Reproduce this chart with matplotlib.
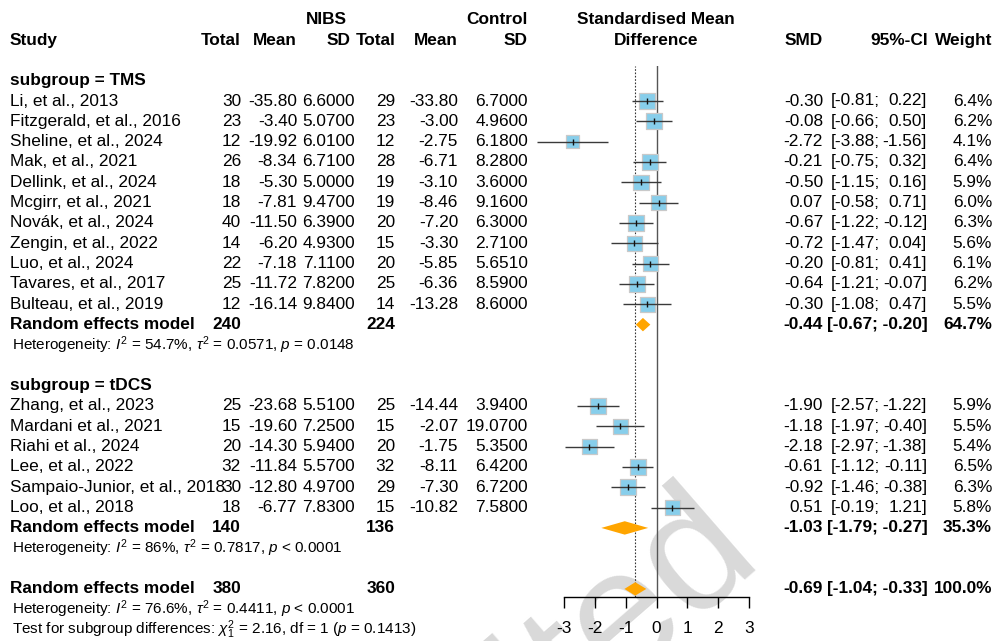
import matplotlib
matplotlib.use("Agg")
import matplotlib.pyplot as plt
import numpy as np

plt.rcParams['font.family'] = ['Liberation Sans', 'DejaVu Sans']
plt.rcParams['mathtext.fontset'] = 'custom'
plt.rcParams['mathtext.rm'] = 'Liberation Sans'
plt.rcParams['mathtext.it'] = 'Liberation Sans:italic'
plt.rcParams['mathtext.bf'] = 'Liberation Sans:bold'

# ---------------- data ----------------
tms_studies = ["Li, et al., 2013", "Fitzgerald, et al., 2016", "Sheline, et al., 2024",
               "Mak, et al., 2021", "Dellink, et al., 2024", "Mcgirr, et al., 2021",
               "Novák, et al., 2024", "Zengin, et al., 2022", "Luo, et al., 2024",
               "Tavares, et al., 2017", "Bulteau, et al., 2019"]
tms_n1 = [30, 23, 12, 26, 18, 18, 40, 14, 22, 25, 12]
tms_m1 = ["-35.80", "-3.40", "-19.92", "-8.34", "-5.30", "-7.81", "-11.50", "-6.20", "-7.18", "-11.72", "-16.14"]
tms_sd1 = ["6.6000", "5.0700", "6.0100", "6.7100", "5.0000", "9.4700", "6.3900", "4.9300", "7.1100", "7.8200", "9.8400"]
tms_n2 = [29, 23, 12, 28, 19, 19, 20, 15, 20, 25, 14]
tms_m2 = ["-33.80", "-3.00", "-2.75", "-6.71", "-3.10", "-8.46", "-7.20", "-3.30", "-5.85", "-6.36", "-13.28"]
tms_sd2 = ["6.7000", "4.9600", "6.1800", "8.2800", "3.6000", "9.1600", "6.3000", "2.7100", "5.6510", "8.5900", "8.6000"]
tms_smd = [-0.30, -0.08, -2.72, -0.21, -0.50, 0.07, -0.67, -0.72, -0.20, -0.64, -0.30]
tms_lo = [-0.81, -0.66, -3.88, -0.75, -1.15, -0.58, -1.22, -1.47, -0.81, -1.21, -1.08]
tms_hi = [0.22, 0.50, -1.56, 0.32, 0.16, 0.71, -0.12, 0.04, 0.41, -0.07, 0.47]
tms_w = [6.4, 6.2, 4.1, 6.4, 5.9, 6.0, 6.3, 5.6, 6.1, 6.2, 5.5]
tms_pool = dict(n1=240, n2=224, smd=-0.44, lo=-0.67, hi=-0.20, w=64.7)
tms_het = r"Heterogeneity: $\mathit{I}^2$ = 54.7%, $\tau^2$ = 0.0571, $\mathit{p}$ = 0.0148"

tdcs_studies = ["Zhang, et al., 2023", "Mardani et al., 2021", "Riahi et al., 2024",
                "Lee, et al., 2022", "Sampaio-Junior, et al., 2018", "Loo, et al., 2018"]
tdcs_n1 = [25, 15, 20, 32, 30, 18]
tdcs_m1 = ["-23.68", "-19.60", "-14.30", "-11.84", "-12.80", "-6.77"]
tdcs_sd1 = ["5.5100", "7.2500", "5.9400", "5.5700", "4.9700", "7.8300"]
tdcs_n2 = [25, 15, 20, 32, 29, 15]
tdcs_m2 = ["-14.44", "-2.07", "-1.75", "-8.11", "-7.30", "-10.82"]
tdcs_sd2 = ["3.9400", "19.0700", "5.3500", "6.4200", "6.7200", "7.5800"]
tdcs_smd = [-1.90, -1.18, -2.18, -0.61, -0.92, 0.51]
tdcs_lo = [-2.57, -1.97, -2.97, -1.12, -1.46, -0.19]
tdcs_hi = [-1.22, -0.40, -1.38, -0.11, -0.38, 1.21]
tdcs_w = [5.9, 5.5, 5.4, 6.5, 6.3, 5.8]
tdcs_pool = dict(n1=140, n2=136, smd=-1.03, lo=-1.79, hi=-0.27, w=35.3)
tdcs_het = r"Heterogeneity: $\mathit{I}^2$ = 86%, $\tau^2$ = 0.7817, $\mathit{p}$ < 0.0001"

all_pool = dict(n1=380, n2=360, smd=-0.69, lo=-1.04, hi=-0.33, w=100.0)
all_het = r"Heterogeneity: $\mathit{I}^2$ = 76.6%, $\tau^2$ = 0.4411, $\mathit{p}$ < 0.0001"
test_txt = r"Test for subgroup differences: $\chi^2_1$ = 2.16, df = 1 ($\mathit{p}$ = 0.1413)"

xticks = [-3, -2, -1, 0, 1, 2, 3]

# ---------------- layout ----------------
W, H = 997, 641
ROW0, ROWH = 101.0, 20.33
def row(p):
    return (p - ROW0) / ROWH

fig = plt.figure(figsize=(W / 100, H / 100), dpi=100)
tax = fig.add_axes([0, 0, 1, 1])
tax.set_xlim(0, W)
tax.set_ylim(row(H), row(0))
tax.axis('off')
tax.patch.set_alpha(0)

ax_top, ax_bot = 66, 597
fax = fig.add_axes([564 / W, (H - ax_bot) / H, 185 / W, (ax_bot - ax_top) / H])
fax.set_xlim(-3, 3)
fax.set_ylim(row(ax_bot), row(ax_top))
fax.patch.set_alpha(0)
for s in ['top', 'right', 'left']:
    fax.spines[s].set_visible(False)
fax.spines['bottom'].set_bounds(-3, 3)
fax.spines['bottom'].set_linewidth(1.0)
fax.set_yticks([])
fax.set_xticks(xticks)
fax.set_xticklabels([str(t) for t in xticks])
fax.tick_params(axis='x', direction='out', length=8, width=1.0, pad=9, labelsize=12.4)

FS = 12.4
FSH = 11
X_STUDY = 10
X_T1, X_M1, X_SD1 = 241, 297, 355
X_T2, X_M2, X_SD2 = 395, 458, 528
X_FC = 656
X_SMD, X_CILO, X_CIHI, X_W = 823, 880, 927, 992

def t(x, y, s, ha='right', bold=False, fs=FS):
    tax.text(x, y, s, ha=ha, va='center', fontsize=fs,
             fontweight='bold' if bold else 'normal')

# header
t(347, -4, "NIBS", bold=True)
t(X_SD2, -4, "Control", bold=True)
t(X_FC, -4, "Standardised Mean", ha='center', bold=True)
t(X_STUDY, -3, "Study", ha='left', bold=True)
for x, s in [(X_T1, "Total"), (X_M1, "Mean"), (351, "SD"), (X_T2 + 1, "Total"),
             (X_M2, "Mean"), (X_SD2, "SD"), (X_SMD, "SMD"), (X_CIHI + 1, "95%-CI"), (X_W, "Weight")]:
    t(x, -3, s, bold=True)
t(X_FC, -3, "Difference", ha='center', bold=True)

def ci_text(y, smd, lo, hi, w, bold=False):
    t(X_SMD, y, f"{smd:.2f}", bold=bold)
    if bold:
        t(X_CIHI + 1, y, f"[{lo:.2f}; {hi:.2f}]", bold=True)
    else:
        t(X_CILO, y, f"[{lo:.2f};")
        t(X_CIHI, y, f"{hi:.2f}]")
    t(X_W, y, f"{w:.1f}%", bold=bold)

def pooled(py, pool):
    t(X_STUDY, py, "Random effects model", ha='left', bold=True)
    t(X_T1, py, str(pool['n1']), bold=True)
    t(X_T2, py, str(pool['n2']), bold=True)
    ci_text(py, pool['smd'], pool['lo'], pool['hi'], pool['w'], bold=True)
    hh = 0.33
    fax.fill([pool['lo'], pool['smd'], pool['hi'], pool['smd']],
             [py, py - hh, py, py + hh], color='#FFA500', lw=0, zorder=3, clip_on=False)

def group(start, title, studies, n1, m1, sd1, n2, m2, sd2, smd, lo, hi, w, pool, het):
    t(X_STUDY, start - 1, title, ha='left', bold=True)
    ys = np.arange(start, start + len(studies))
    for i, y in enumerate(ys):
        t(X_STUDY, y, studies[i], ha='left')
        t(X_T1, y, str(n1[i])); t(X_M1, y, m1[i]); t(X_SD1, y, sd1[i])
        t(X_T2, y, str(n2[i])); t(X_M2, y, m2[i]); t(X_SD2, y, sd2[i])
        ci_text(y, smd[i], lo[i], hi[i], w[i])
    side_px = 16.0 * np.sqrt(np.array(w) / 6.4)
    sizes = (side_px * 0.72) ** 2
    fax.scatter(smd, ys, s=sizes, marker='s', color='#87CEEB', edgecolors='#c9c9c9',
                linewidths=0.9, zorder=3, clip_on=False)
    fax.hlines(ys, lo, hi, color='#3a3a3a', lw=1.0, zorder=4, clip_on=False)
    fax.plot(smd, ys, linestyle='none', marker='|', color='#111111', markersize=4.5,
             markeredgewidth=1.0, zorder=5, clip_on=False)
    py = start + len(studies)
    pooled(py, pool)
    tax.text(12, py + 1, het, ha='left', va='center', fontsize=FSH)
    return py

group(0, "subgroup = TMS", tms_studies, tms_n1, tms_m1, tms_sd1, tms_n2, tms_m2, tms_sd2,
      tms_smd, tms_lo, tms_hi, tms_w, tms_pool, tms_het)
group(15, "subgroup = tDCS", tdcs_studies, tdcs_n1, tdcs_m1, tdcs_sd1, tdcs_n2, tdcs_m2, tdcs_sd2,
      tdcs_smd, tdcs_lo, tdcs_hi, tdcs_w, tdcs_pool, tdcs_het)
pooled(24, all_pool)
tax.text(12, 25, all_het, ha='left', va='center', fontsize=FSH)
tax.text(12, 26, test_txt, ha='left', va='center', fontsize=FSH)

fax.axvline(0, color='#555555', lw=1.0, zorder=2)
fax.axvline(all_pool['smd'], color='#333333', lw=0.8, linestyle=(0, (1.5, 1.5)), zorder=2)

# watermark
fig.text(762 / W, 1 - 553 / H, "Unedited", rotation=41, rotation_mode='anchor',
         ha='right', va='baseline', fontsize=124, color='#d9d9d9',
         family='Liberation Sans', zorder=-1)

fig.savefig("out.png", dpi=100)
